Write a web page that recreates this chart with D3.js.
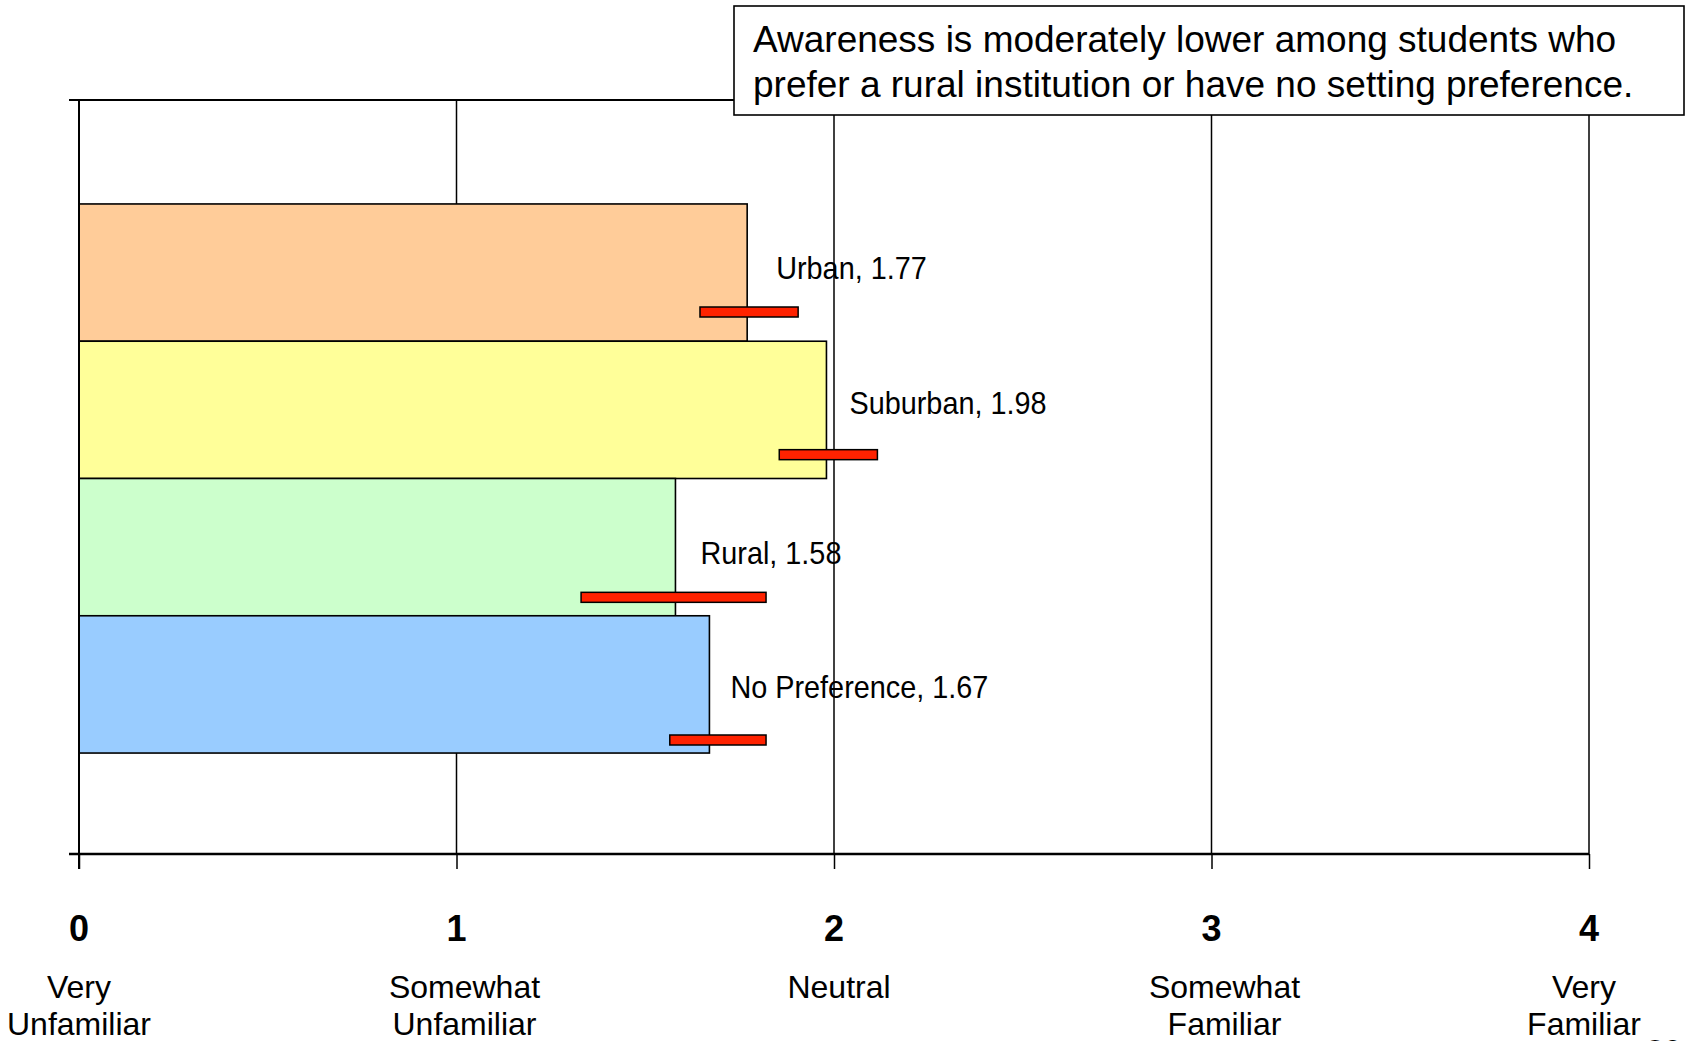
<!DOCTYPE html>
<html>
<head>
<meta charset="utf-8">
<script src="https://cdn.jsdelivr.net/npm/d3@7"></script>
<style>
  html, body { margin: 0; padding: 0; background: #ffffff; }
  svg { display: block; font-family: "Liberation Sans", Arial, sans-serif; }
</style>
</head>
<body>
<svg id="chart" width="1687" height="1041"></svg>
<script>
// ---- data ----
const categories = ["Urban", "Suburban", "Rural", "No Preference"];
const means      = [1.77, 1.98, 1.58, 1.67];
const errLow     = [1.645, 1.855, 1.33, 1.565];
const errHigh    = [1.905, 2.115, 1.82, 1.82];
const barColors  = ["#FFCC99", "#FFFF99", "#CCFFCC", "#99CCFF"];
const tickValues = [0, 1, 2, 3, 4];
const tickNames  = [["Very", "Unfamiliar"], ["Somewhat", "Unfamiliar"], ["Neutral"], ["Somewhat", "Familiar"], ["Very", "Familiar"]];
const noteLines  = ["Awareness is moderately lower among students who",
                    "prefer a rural institution or have no setting preference."];
const pageNumber = "20";

// ---- layout (styling offsets, not data) ----
const labelDx = [29, 23, 25, 21];
const labelDy = [-33, -41, -33, -42];
const nameDx  = [0, 8, 5, 13, -5];

const svg = d3.select("#chart");
const plot = { left: 79, right: 1589, top: 100, bottom: 854 };

const x = d3.scaleLinear().domain([0, 4]).range([plot.left, plot.right]);
const y = d3.scaleBand().domain(categories).range([plot.top + 1, plot.bottom + 2])
  .paddingInner(0).paddingOuter(0.75);
// error bars sit on a secondary (slightly different) category axis
const yErr = d3.scalePoint().domain(categories).range([312, 740]);

const rows = categories.map((c, i) => ({
  cat: c, mean: means[i], lo: errLow[i], hi: errHigh[i], color: barColors[i], i
}));

// ---- gridlines & x axis ticks ----
const xAxis = d3.axisBottom(x).tickValues(tickValues).tickSize(15).tickFormat("");
const gx = svg.append("g").attr("transform", `translate(0,${plot.bottom})`).call(xAxis);
gx.select(".domain").remove();
gx.selectAll(".tick line").attr("stroke", "#000").attr("stroke-width", 1.5);

svg.append("g").selectAll("line.grid")
  .data(tickValues.filter(v => v > 0))
  .join("line")
  .attr("x1", d => x(d)).attr("x2", d => x(d))
  .attr("y1", plot.top).attr("y2", plot.bottom)
  .attr("stroke", "#000").attr("stroke-width", 1.5);

// top horizontal line
svg.append("line")
  .attr("x1", plot.left - 10).attr("x2", plot.right)
  .attr("y1", plot.top).attr("y2", plot.top)
  .attr("stroke", "#000").attr("stroke-width", 2);

// ---- bars ----
svg.append("g").selectAll("rect.bar")
  .data(rows)
  .join("rect")
  .attr("x", x(0))
  .attr("y", d => y(d.cat))
  .attr("width", d => x(d.mean) - x(0))
  .attr("height", y.bandwidth())
  .attr("fill", d => d.color)
  .attr("stroke", "#000").attr("stroke-width", 1.6);

// ---- axis lines (on top of bars) ----
svg.append("line")
  .attr("x1", plot.left - 10).attr("x2", plot.right)
  .attr("y1", plot.bottom).attr("y2", plot.bottom)
  .attr("stroke", "#000").attr("stroke-width", 2.5);
svg.append("line")
  .attr("x1", plot.left).attr("x2", plot.left)
  .attr("y1", plot.top).attr("y2", plot.bottom + 15)
  .attr("stroke", "#000").attr("stroke-width", 2);

// ---- data labels ----
svg.append("g").selectAll("text.lbl")
  .data(rows)
  .join("text")
  .attr("transform", d => `translate(${x(d.mean) + labelDx[d.i]},${yErr(d.cat) + labelDy[d.i]}) scale(0.93,1)`)
  .attr("font-size", 31)
  .attr("fill", "#000")
  .text(d => `${d.cat}, ${d.mean.toFixed(2)}`);

// ---- error bars ----
svg.append("g").selectAll("rect.err")
  .data(rows)
  .join("rect")
  .attr("x", d => x(d.lo))
  .attr("y", d => yErr(d.cat) - 5)
  .attr("width", d => x(d.hi) - x(d.lo))
  .attr("height", 10)
  .attr("fill", "#FF2200")
  .attr("stroke", "#000").attr("stroke-width", 1.5);

// ---- tick numbers & names ----
svg.append("g").selectAll("text.num")
  .data(tickValues)
  .join("text")
  .attr("x", d => x(d)).attr("y", 941)
  .attr("text-anchor", "middle")
  .attr("font-size", 36).attr("font-weight", "bold")
  .text(d => d);

const names = svg.append("g").selectAll("text.name")
  .data(tickValues)
  .join("text")
  .attr("text-anchor", "middle")
  .attr("font-size", 32);
names.each(function(d, i) {
  d3.select(this).selectAll("tspan")
    .data(tickNames[i])
    .join("tspan")
    .attr("x", x(d) + nameDx[i])
    .attr("y", (t, j) => 998 + j * 37)
    .text(t => t);
});

// ---- note box ----
const note = svg.append("g");
note.append("rect")
  .attr("x", 734).attr("y", 6).attr("width", 950).attr("height", 109)
  .attr("fill", "#fff").attr("stroke", "#000").attr("stroke-width", 1.6);
note.selectAll("text")
  .data(noteLines)
  .join("text")
  .attr("x", 753).attr("y", (d, i) => 52 + i * 45)
  .attr("font-size", 37)
  .text(d => d);

// ---- page number (cut off at bottom edge, as in the slide) ----
svg.append("text")
  .attr("x", 1646).attr("y", 1062)
  .attr("font-size", 32)
  .text(pageNumber);
</script>
</body>
</html>
